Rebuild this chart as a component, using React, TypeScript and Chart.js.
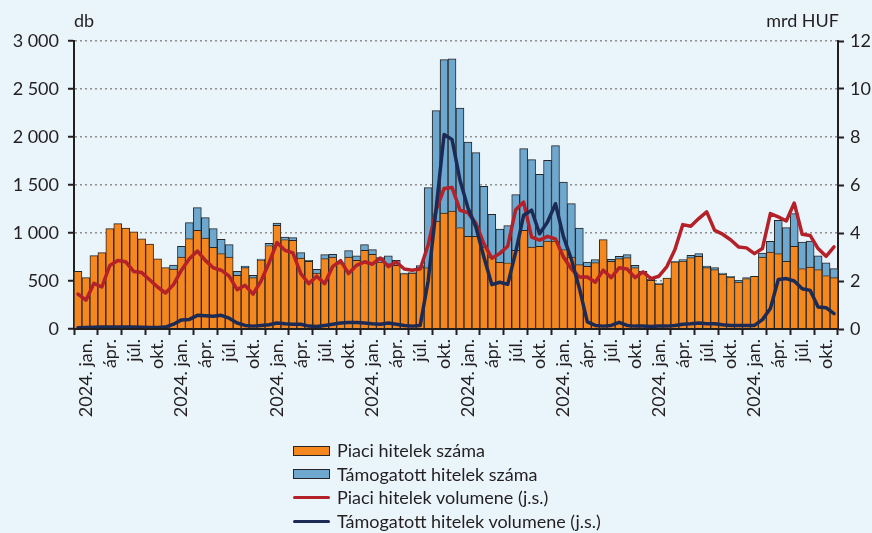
import React, { useEffect, useRef } from "react";
import { Chart, registerables } from "chart.js";

Chart.register(...registerables);

// ---- tick labels (one year pattern, repeated for 8 years; labels sit mid-quarter)
const monthLabels = ["", "2024. jan.", "", "", "ápr.", "", "", "júl.", "", "", "okt.", ""];
const yearCount = 8;
const categories: string[] = [];
for (let y = 0; y < yearCount; y++) for (let m = 0; m < 12; m++) categories.push(monthLabels[m]);

// ---- series (db) – market loans count (orange, bottom of stack)
const piaciSzama = [
  600, 535, 765, 795, 1045, 1098, 1050, 1012, 940, 885, 730, 640,
  625, 750, 941, 1028, 948, 850, 785, 750, 559, 640, 535, 720,
  870, 1080, 931, 924, 740, 705, 583, 733, 750, 681, 750, 716,
  820, 778, 698, 681, 663, 577, 583, 640, 640, 1125, 1208, 1229,
  1056, 966, 966, 854, 750, 695, 690, 820, 1028, 854, 861, 917,
  917, 827, 750, 670, 653, 691, 931, 705, 733, 743, 639, 587,
  507, 469, 531, 700, 708, 743, 757, 639, 618, 573, 542, 490,
  525, 549, 750, 802, 785, 705, 861, 629, 646, 618, 556, 535,
];

// ---- series (db) – subsidised loans count (blue, stacked on top)
const tamogatottSzama = [
  0, 0, 0, 0, 0, 0, 0, 0, 0, 0, 0, 0,
  42, 111, 167, 236, 212, 195, 149, 129, 42, 16, 24, 9,
  23, 24, 27, 28, 56, 11, 39, 42, 28, 7, 66, 45,
  59, 49, 46, 80, 53, 6, 4, 20, 833, 1150, 1598, 1584,
  1246, 982, 871, 632, 445, 345, 386, 580, 851, 910, 750, 840,
  993, 704, 556, 382, 45, 31, 0, 21, 24, 32, 24, 14,
  11, 10, 0, 5, 15, 25, 28, 17, 21, 10, 7, 17,
  10, 0, 42, 111, 347, 351, 341, 277, 271, 143, 132, 94,
];

// ---- series (mrd HUF, right axis) – market loans volume
const piaciVolumen = [
  1.45, 1.2, 1.9, 1.75, 2.65, 2.85, 2.8, 2.4, 2.35, 2.05, 1.75, 1.5,
  1.85, 2.45, 2.93, 3.25, 2.86, 2.55, 2.45, 2.2, 1.64, 1.82, 1.45, 2.0,
  2.75, 3.6, 3.28, 3.17, 2.31, 1.89, 2.2, 1.89, 2.6, 2.85, 2.31, 2.65,
  2.8, 2.7, 2.96, 2.6, 2.79, 2.5, 2.45, 2.5, 3.5, 4.95, 5.85, 5.9,
  4.95, 4.85, 4.4, 3.56, 2.95, 3.15, 3.45, 4.97, 5.29, 3.83, 3.7, 3.86,
  3.75, 3.0, 2.5, 2.17, 2.17, 1.95, 2.45, 2.14, 2.55, 2.5, 2.14, 2.38,
  2.1, 2.2, 2.6, 3.3, 4.35, 4.28, 4.6, 4.88, 4.11, 3.95, 3.72, 3.42,
  3.38, 3.14, 3.35, 4.81, 4.67, 4.5, 5.25, 3.95, 3.9, 3.35, 3.03, 3.42,
];

// ---- series (mrd HUF, right axis) – subsidised loans volume
const tamogatottVolumen = [
  0.05, 0.06, 0.07, 0.08, 0.08, 0.08, 0.08, 0.08, 0.07, 0.06, 0.06, 0.08,
  0.2, 0.38, 0.4, 0.57, 0.55, 0.53, 0.57, 0.45, 0.25, 0.15, 0.12, 0.15,
  0.18, 0.25, 0.22, 0.2, 0.2, 0.12, 0.1, 0.15, 0.2, 0.25, 0.27, 0.27,
  0.25, 0.22, 0.2, 0.25, 0.2, 0.15, 0.12, 0.15, 2.0, 5.0, 8.1, 7.9,
  6.2, 5.05, 4.25, 3.0, 1.85, 1.95, 1.86, 3.2, 4.74, 4.95, 3.97, 4.46,
  5.22, 3.85, 2.9, 1.7, 0.3, 0.15, 0.12, 0.15, 0.28, 0.15, 0.12, 0.12,
  0.1, 0.12, 0.12, 0.15, 0.2, 0.22, 0.25, 0.22, 0.22, 0.18, 0.15, 0.15,
  0.15, 0.15, 0.39, 0.85, 2.06, 2.1, 2.0, 1.68, 1.61, 0.92, 0.89, 0.64,
];

const seriesLabels = [
  "Piaci hitelek száma",
  "Támogatott hitelek száma",
  "Piaci hitelek volumene (j.s.)",
  "Támogatott hitelek volumene (j.s.)",
];

const BG = "#EAF4FB";
const ORANGE = "#F5871F";
const BLUE = "#6FA8CF";
const RED = "#B42128";
const NAVY = "#1C2B56";
const DARK = "#231F20";
const EDGE = "#262626";
const GRID = "#8F8F8F";
const FONT = "Lato, 'Open Sans', sans-serif";

const fmtThousands = (v: number) => String(v).replace(/\B(?=(\d{3})+(?!\d))/g, " ");

export default function App() {
  const ref = useRef<HTMLCanvasElement | null>(null);

  useEffect(() => {
    document.body.style.margin = "0";
    const canvas = ref.current;
    if (!canvas) return;
    const tickFont = { family: FONT, size: 18 };
    const chart = new Chart(canvas, {
      type: "bar",
      data: {
        labels: categories,
        datasets: [
          {
            type: "bar",
            label: seriesLabels[0],
            data: piaciSzama,
            backgroundColor: ORANGE,
            borderColor: EDGE,
            borderWidth: 1,
            yAxisID: "y",
            stack: "s",
            order: 2,
            barPercentage: 1,
            categoryPercentage: 1,
          },
          {
            type: "bar",
            label: seriesLabels[1],
            data: tamogatottSzama,
            backgroundColor: BLUE,
            borderColor: EDGE,
            borderWidth: 1,
            yAxisID: "y",
            stack: "s",
            order: 2,
            barPercentage: 1,
            categoryPercentage: 1,
          },
          {
            type: "line",
            label: seriesLabels[2],
            data: piaciVolumen,
            borderColor: RED,
            backgroundColor: RED,
            borderWidth: 3.5,
            pointRadius: 0,
            tension: 0,
            borderJoinStyle: "round",
            borderCapStyle: "round",
            yAxisID: "y2",
            order: 1,
          },
          {
            type: "line",
            label: seriesLabels[3],
            data: tamogatottVolumen,
            borderColor: NAVY,
            backgroundColor: NAVY,
            borderWidth: 3.5,
            pointRadius: 0,
            tension: 0,
            borderJoinStyle: "round",
            borderCapStyle: "round",
            yAxisID: "y2",
            order: 0,
          },
        ],
      } as any,
      options: {
        animation: false,
        responsive: false,
        maintainAspectRatio: false,
        layout: { padding: { top: 41, bottom: 94, left: 0, right: 0 } },
        plugins: { legend: { display: false }, tooltip: { enabled: false } },
        scales: {
          x: {
            stacked: true,
            offset: true,
            grid: {
              offset: true,
              drawOnChartArea: false,
              drawTicks: true,
              tickLength: 6,
              tickWidth: 2,
              color: "rgba(0,0,0,0)",
              tickColor: (ctx: any) =>
                ctx.type !== "tick" || ctx.index % 3 === 0 ? DARK : "rgba(0,0,0,0)",
            },
            border: { color: DARK, width: 2, z: 1 },
            ticks: {
              autoSkip: false,
              maxRotation: 90,
              minRotation: 90,
              padding: 4,
              color: DARK,
              font: tickFont,
            },
            afterFit: (s: any) => {
              s.height = 110;
            },
          },
          y: {
            stacked: true,
            position: "left",
            min: 0,
            max: 3000,
            ticks: {
              stepSize: 500,
              padding: 9,
              color: DARK,
              font: tickFont,
              callback: (v: any) => fmtThousands(Number(v)),
            },
            grid: {
              color: GRID,
              lineWidth: 1.5,
              tickColor: DARK,
              tickWidth: 2,
              tickLength: 6,
            },
            border: { color: DARK, width: 2, dash: [2, 3] },
            afterFit: (s: any) => {
              s.width = 74;
            },
          },
          y2: {
            position: "right",
            min: 0,
            max: 12,
            ticks: { stepSize: 2, padding: 6, color: DARK, font: tickFont },
            grid: {
              drawOnChartArea: false,
              tickColor: DARK,
              tickWidth: 2,
              tickLength: 6,
            },
            border: { color: DARK, width: 2 },
            afterFit: (s: any) => {
              s.width = 34;
            },
          },
        },
      } as any,
    });
    return () => chart.destroy();
  }, []);

  const legendItems = [
    { label: seriesLabels[0], kind: "box", color: ORANGE },
    { label: seriesLabels[1], kind: "box", color: BLUE },
    { label: seriesLabels[2], kind: "line", color: RED },
    { label: seriesLabels[3], kind: "line", color: NAVY },
  ];

  return (
    <div
      style={{
        position: "fixed",
        left: 0,
        top: 0,
        width: 872,
        height: 533,
        background: BG,
        overflow: "hidden",
        fontFamily: FONT,
        color: DARK,
      }}
    >
      <canvas
        ref={ref}
        width={872}
        height={533}
        style={{ position: "absolute", left: 0, top: 0, width: 872, height: 533 }}
      />
      <div style={{ position: "absolute", left: 74, top: 10, fontSize: 18, lineHeight: "21.6px" }}>db</div>
      <div
        style={{
          position: "absolute",
          right: 33,
          top: 10,
          fontSize: 18,
          lineHeight: "21.6px",
          textAlign: "right",
        }}
      >
        mrd HUF
      </div>
      <div style={{ position: "absolute", left: 293, top: 439 }}>
        {legendItems.map((it) => (
          <div
            key={it.label}
            style={{
              display: "flex",
              alignItems: "center",
              height: 23.6,
              fontSize: 18,
              lineHeight: "23.6px",
              whiteSpace: "nowrap",
            }}
          >
            {it.kind === "box" ? (
              <span
                style={{
                  display: "inline-block",
                  width: 35,
                  height: 8,
                  background: it.color,
                  border: `1px solid ${EDGE}`,
                  marginRight: 7,
                }}
              />
            ) : (
              <span
                style={{
                  display: "inline-block",
                  width: 37,
                  height: 3,
                  background: it.color,
                  borderRadius: 2,
                  marginRight: 7,
                }}
              />
            )}
            <span>{it.label}</span>
          </div>
        ))}
      </div>
    </div>
  );
}
